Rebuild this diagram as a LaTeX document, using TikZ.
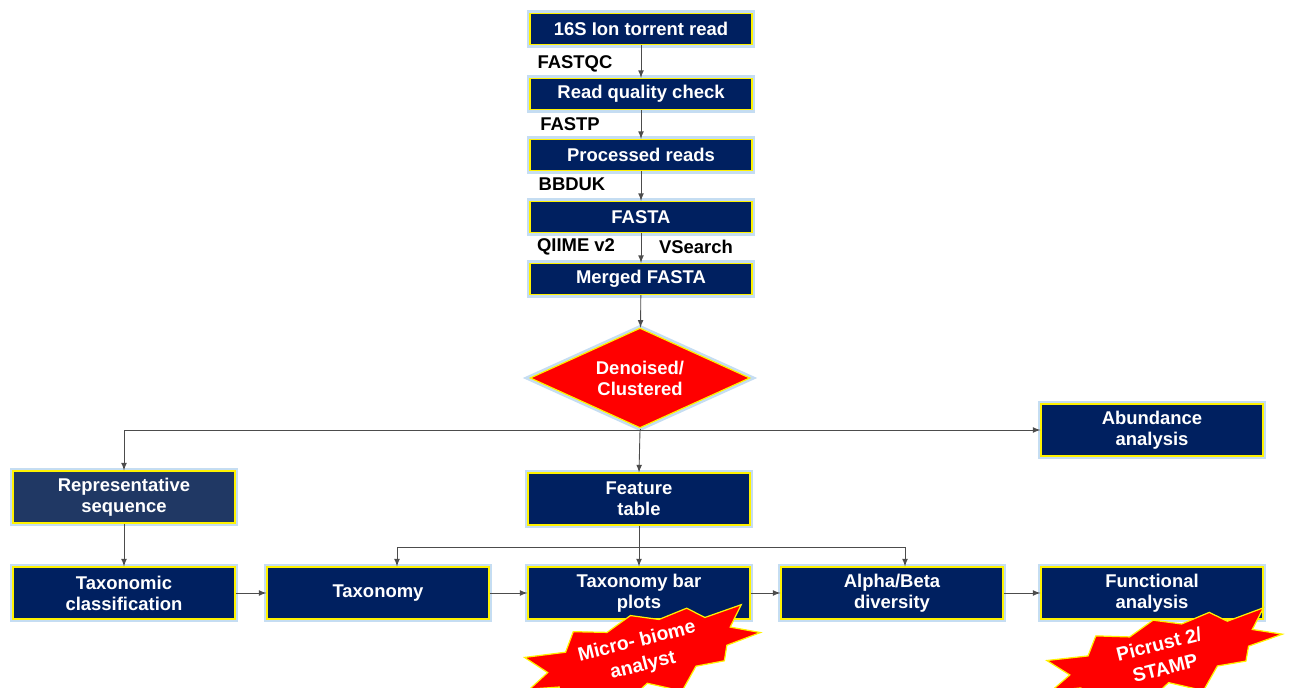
\documentclass[tikz,border=0pt]{standalone}
\usepackage{fontspec}
\setmainfont{Liberation Sans}
\usetikzlibrary{shapes.geometric,shapes.symbols}
\definecolor{navy}{HTML}{002060}
\definecolor{slate}{HTML}{203864}
\definecolor{glow}{HTML}{C5DDF2}
\tikzset{
    procbox/.style={rectangle, fill=navy, draw=yellow, line width=0.7pt,
        preaction={draw=glow, line width=3.5pt},
        minimum width=4.44cm, minimum height=0.62cm, inner sep=1pt,
        text=white, align=center, font=\bfseries\fontsize{10.5}{12}\selectfont},
    tallbox/.style={procbox, minimum height=1.04cm},
    lbl/.style={font=\bfseries\fontsize{10.5}{12}\selectfont},
    decision/.style={diamond, aspect=2.2, fill=red, draw=yellow, line width=0.7pt,
        preaction={draw=glow, line width=3.5pt},
        minimum width=4.4cm, minimum height=2cm, inner sep=0pt,
        text=white, align=center, font=\bfseries\fontsize{10.5}{12}\selectfont},
    burst/.style={starburst, starburst points=11, starburst point height=0.6cm,
        random starburst=3, fill=red, draw=yellow, line width=0.7pt,
        minimum width=5cm, minimum height=0.95cm, inner sep=0pt,
        text=white, align=center, font=\bfseries\fontsize{11}{14}\selectfont},
    flow/.style={->, >=latex, draw=black!70, line width=0.5pt}
}
\begin{document}
\begin{tikzpicture}[x=0.02cm, y=-0.02cm]
    \useasboundingbox (0,0) rectangle (1295,688);
    % main chain
    \foreach \name/\y/\txt in {raw/29/16S Ion torrent read, qc/94/Read quality check,
        proc/155/Processed reads, fasta/217/FASTA, merged/279/Merged FASTA} {
        \node[procbox] (\name) at (641,\y) {\txt};
    }
    \node[decision] (denoise) at (640,378) {Denoised/\\Clustered};
    \foreach \a/\b in {raw/qc, qc/proc, proc/fasta, fasta/merged, merged/denoise} {
        \draw[flow] (\a) -- (\b);
    }
    \node[lbl] (fastqc) at (575,64) {FASTQC};
    \node[lbl] (fastp) at (570,124) {FASTP};
    \node[lbl] (bbduk) at (572,184) {BBDUK};
    \node[lbl] (qiime) at (576,247) {QIIME v2};
    \node[lbl] (vsearch) at (696,247) {VSearch};

    % second level
    \node[tallbox] (abund) at (1152,430) {Abundance\\analysis};
    \node[tallbox, fill=slate] (repseq) at (124,497) {Representative\\sequence};
    \node[tallbox] (feature) at (639,499) {Feature\\table};
    \coordinate (split) at (640,430);
    \draw[draw=black!70, line width=0.5pt] (denoise.south) -- (split);
    \draw[flow] (split) -| (repseq.north);
    \draw[flow] (split) -- (abund.west);
    \draw[flow] (split) -- (feature.north);

    % bottom row
    \node[tallbox] (taxclass) at (124,593) {Taxonomic\\classification};
    \node[tallbox] (taxonomy) at (378,593) {Taxonomy};
    \node[tallbox] (barplot) at (639,593) {Taxonomy bar\\plots};
    \node[tallbox] (diversity) at (892,593) {Alpha/Beta\\diversity};
    \node[tallbox] (func) at (1152,593) {Functional\\analysis};
    \draw[flow] (repseq) -- (taxclass);
    \draw[flow] (taxclass) -- (taxonomy);
    \draw[flow] (taxonomy) -- (barplot);
    \draw[flow] (barplot) -- (diversity);
    \draw[flow] (diversity) -- (func);
    \coordinate (fork) at (639,547);
    \draw[draw=black!70, line width=0.5pt] (feature.south) -- (fork);
    \draw[flow] (fork) -| ([xshift=0.38cm]taxonomy.north);
    \draw[flow] (fork) -| ([xshift=0.26cm]diversity.north);
    \draw[flow] (fork) -- (barplot.north);

    % tools
    \node[burst, rotate=14] (microbiome) at (640,654) {Micro- biome\\analyst};
    \node[burst, rotate=14] (picrust) at (1162,656) {Picrust 2/\\STAMP};
\end{tikzpicture}
\end{document}
